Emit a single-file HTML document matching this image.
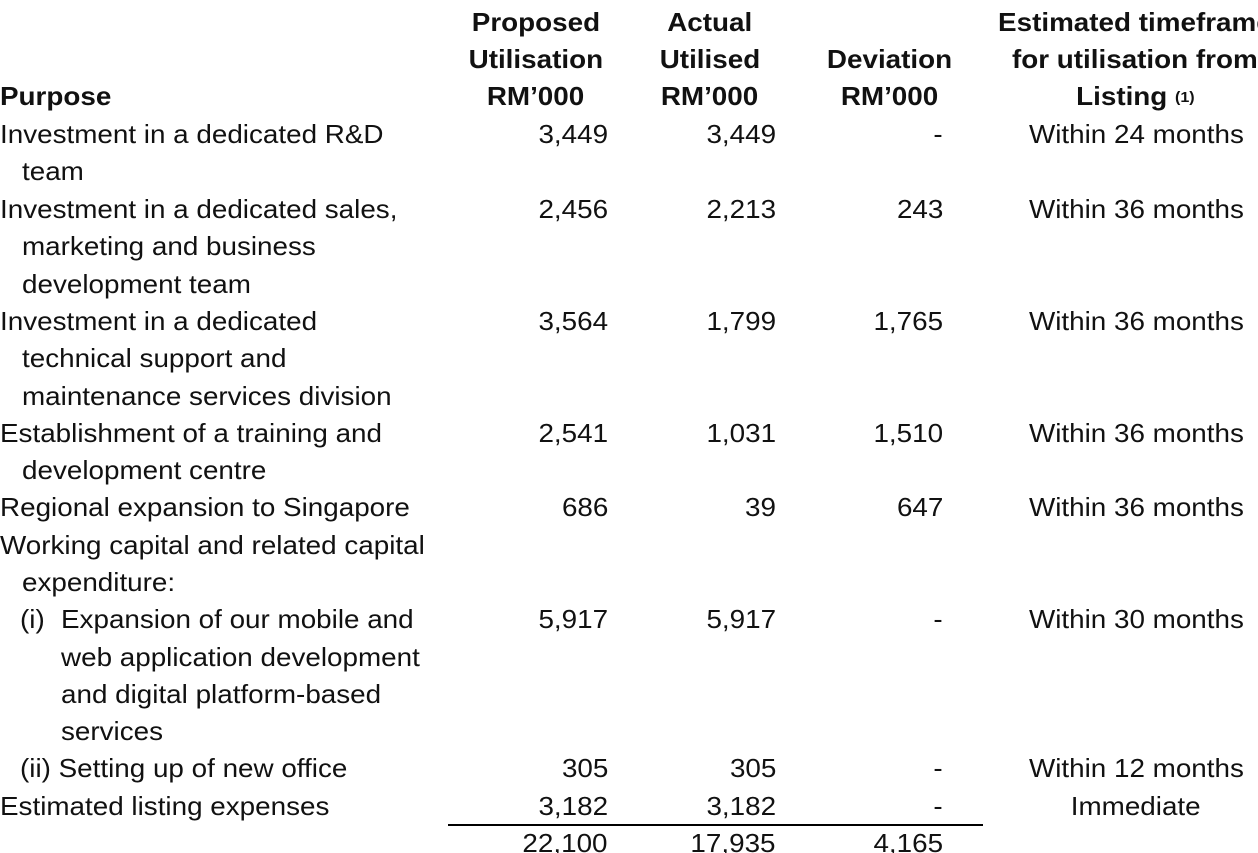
<!DOCTYPE html>
<html><head><meta charset="utf-8">
<style>
html,body{margin:0;padding:0;background:#fff;}
#tbl{position:relative;width:1258px;height:853px;overflow:hidden;font-family:"Liberation Sans",Arial,sans-serif;font-size:26px;color:#111;}
.t{position:absolute;line-height:37px;height:37px;white-space:nowrap;}
.t span{display:inline-block;transform:scaleX(1.07);}
.l span{transform-origin:left center;}
.r{text-align:right;}
.r span{transform-origin:right center;}
.c{text-align:center;width:400px;}
.c span{transform-origin:center center;}
.b{font-weight:bold;}
sup{font-size:15px;line-height:0;position:relative;top:-3px;vertical-align:baseline;}
#rule{position:absolute;left:448px;top:824px;width:535px;height:1.5px;background:#000;}
</style></head><body>
<div id="tbl">
<div class="t l b" style="left:0;top:78px"><span>Purpose</span></div>
<div class="t c b" style="left:336px;top:4px"><span>Proposed</span></div>
<div class="t c b" style="left:336px;top:41px"><span>Utilisation</span></div>
<div class="t c b" style="left:336px;top:78px"><span>RM’000</span></div>
<div class="t c b" style="left:510px;top:4px"><span>Actual</span></div>
<div class="t c b" style="left:510px;top:41px"><span>Utilised</span></div>
<div class="t c b" style="left:510px;top:78px"><span>RM’000</span></div>
<div class="t c b" style="left:690px;top:41px"><span>Deviation</span></div>
<div class="t c b" style="left:690px;top:78px"><span>RM’000</span></div>
<div class="t c b" style="left:935px;top:4px"><span>Estimated timeframe</span></div>
<div class="t c b" style="left:935px;top:41px"><span>for utilisation from</span></div>
<div class="t c b" style="left:935px;top:78px"><span>Listing <sup>(1)</sup></span></div>

<div class="t l" style="left:0;top:116px"><span>Investment in a dedicated R&amp;D</span></div>
<div class="t l" style="left:22px;top:153px"><span>team</span></div>
<div class="t l" style="left:0;top:191px"><span>Investment in a dedicated sales,</span></div>
<div class="t l" style="left:22px;top:228px"><span>marketing and business</span></div>
<div class="t l" style="left:22px;top:266px"><span>development team</span></div>
<div class="t l" style="left:0;top:303px"><span>Investment in a dedicated</span></div>
<div class="t l" style="left:22px;top:340px"><span>technical support and</span></div>
<div class="t l" style="left:22px;top:378px"><span>maintenance services division</span></div>
<div class="t l" style="left:0;top:415px"><span>Establishment of a training and</span></div>
<div class="t l" style="left:22px;top:452px"><span>development centre</span></div>
<div class="t l" style="left:0;top:489px"><span>Regional expansion to Singapore</span></div>
<div class="t l" style="left:0;top:527px"><span>Working capital and related capital</span></div>
<div class="t l" style="left:22px;top:564px"><span>expenditure:</span></div>
<div class="t l" style="left:20px;top:601px"><span>(i)</span></div>
<div class="t l" style="left:61px;top:601px"><span>Expansion of our mobile and</span></div>
<div class="t l" style="left:61px;top:639px"><span>web application development</span></div>
<div class="t l" style="left:61px;top:676px"><span>and digital platform-based</span></div>
<div class="t l" style="left:61px;top:713px"><span>services</span></div>
<div class="t l" style="left:20px;top:750px"><span>(ii) Setting up of new office</span></div>
<div class="t l" style="left:0;top:788px"><span>Estimated listing expenses</span></div>

<div class="t r" style="right:650px;top:116px"><span>3,449</span></div>
<div class="t r" style="right:650px;top:191px"><span>2,456</span></div>
<div class="t r" style="right:650px;top:303px"><span>3,564</span></div>
<div class="t r" style="right:650px;top:415px"><span>2,541</span></div>
<div class="t r" style="right:650px;top:489px"><span>686</span></div>
<div class="t r" style="right:650px;top:601px"><span>5,917</span></div>
<div class="t r" style="right:650px;top:750px"><span>305</span></div>
<div class="t r" style="right:650px;top:788px"><span>3,182</span></div>
<div class="t r" style="right:650px;top:825px"><span>22,100</span></div>
<div class="t r" style="right:482px;top:116px"><span>3,449</span></div>
<div class="t r" style="right:482px;top:191px"><span>2,213</span></div>
<div class="t r" style="right:482px;top:303px"><span>1,799</span></div>
<div class="t r" style="right:482px;top:415px"><span>1,031</span></div>
<div class="t r" style="right:482px;top:489px"><span>39</span></div>
<div class="t r" style="right:482px;top:601px"><span>5,917</span></div>
<div class="t r" style="right:482px;top:750px"><span>305</span></div>
<div class="t r" style="right:482px;top:788px"><span>3,182</span></div>
<div class="t r" style="right:482px;top:825px"><span>17,935</span></div>
<div class="t r" style="right:315px;top:116px"><span>-</span></div>
<div class="t r" style="right:315px;top:191px"><span>243</span></div>
<div class="t r" style="right:315px;top:303px"><span>1,765</span></div>
<div class="t r" style="right:315px;top:415px"><span>1,510</span></div>
<div class="t r" style="right:315px;top:489px"><span>647</span></div>
<div class="t r" style="right:315px;top:601px"><span>-</span></div>
<div class="t r" style="right:315px;top:750px"><span>-</span></div>
<div class="t r" style="right:315px;top:788px"><span>-</span></div>
<div class="t r" style="right:315px;top:825px"><span>4,165</span></div>
<div class="t c" style="left:936px;top:116px"><span>Within 24 months</span></div>
<div class="t c" style="left:936px;top:191px"><span>Within 36 months</span></div>
<div class="t c" style="left:936px;top:303px"><span>Within 36 months</span></div>
<div class="t c" style="left:936px;top:415px"><span>Within 36 months</span></div>
<div class="t c" style="left:936px;top:489px"><span>Within 36 months</span></div>
<div class="t c" style="left:936px;top:601px"><span>Within 30 months</span></div>
<div class="t c" style="left:936px;top:750px"><span>Within 12 months</span></div>
<div class="t c" style="left:936px;top:788px"><span>Immediate</span></div>

<div id="rule"></div>
</div>
</body></html>
